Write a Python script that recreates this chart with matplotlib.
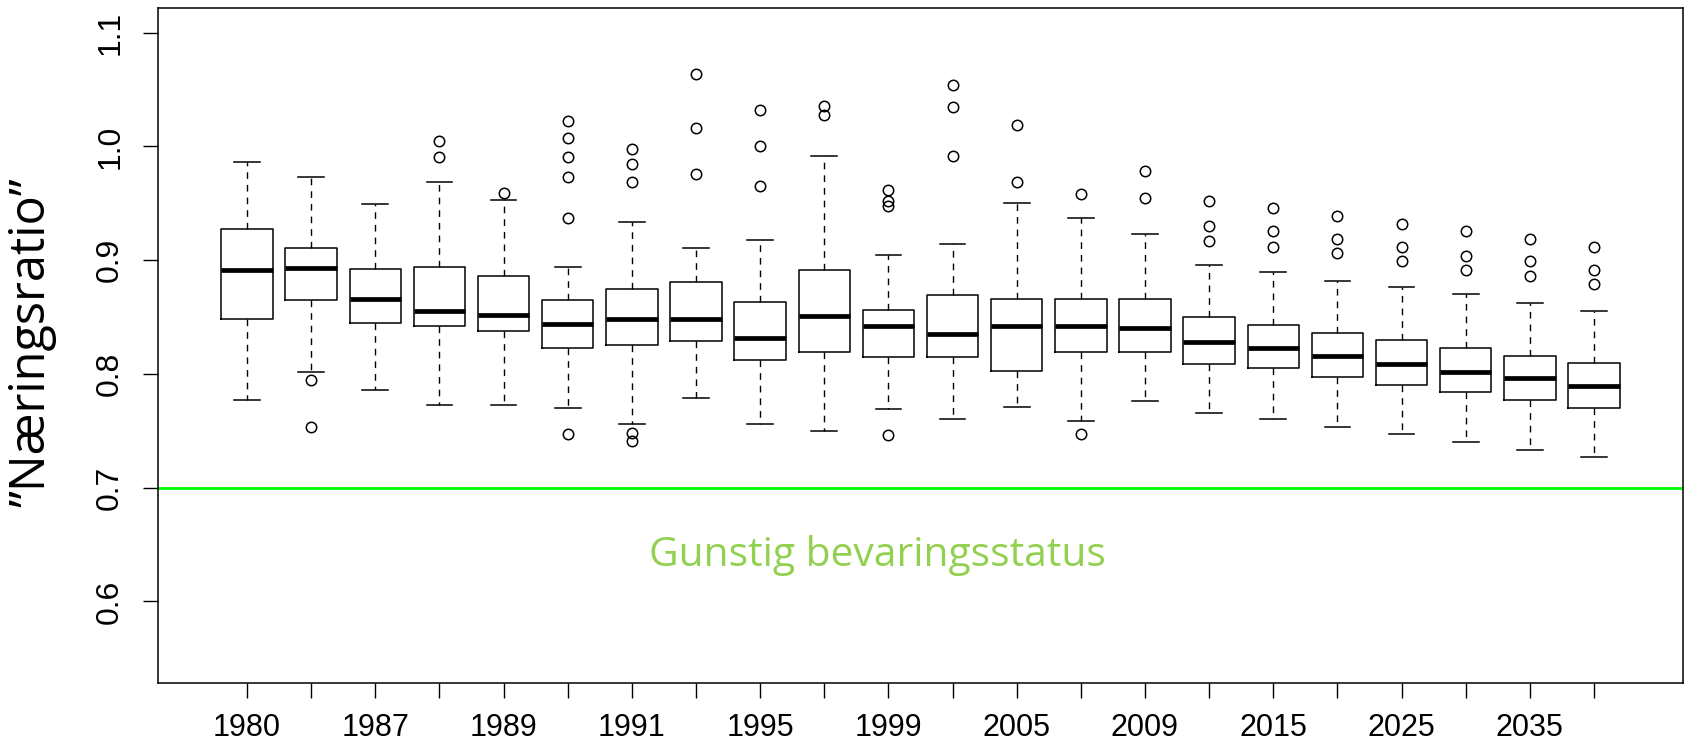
import numpy as np
import matplotlib
matplotlib.use('Agg')
import matplotlib.pyplot as plt

# box statistics (22 boxes)
q1 = [0.848, 0.865, 0.845, 0.842, 0.838, 0.823, 0.825, 0.829, 0.812, 0.819, 0.815,
      0.815, 0.803, 0.819, 0.819, 0.809, 0.805, 0.797, 0.790, 0.784, 0.777, 0.770]
med = [0.891, 0.893, 0.866, 0.855, 0.852, 0.844, 0.848, 0.848, 0.832, 0.851, 0.842,
       0.835, 0.842, 0.842, 0.840, 0.828, 0.823, 0.816, 0.809, 0.802, 0.796, 0.789]
q3 = [0.927, 0.911, 0.892, 0.894, 0.886, 0.865, 0.875, 0.881, 0.863, 0.891, 0.856,
      0.869, 0.866, 0.866, 0.866, 0.850, 0.843, 0.836, 0.830, 0.823, 0.816, 0.810]
whislo = [0.777, 0.802, 0.786, 0.773, 0.773, 0.770, 0.756, 0.779, 0.756, 0.750, 0.769,
          0.760, 0.771, 0.759, 0.776, 0.766, 0.760, 0.753, 0.747, 0.740, 0.733, 0.727]
whishi = [0.986, 0.973, 0.949, 0.969, 0.953, 0.894, 0.934, 0.911, 0.918, 0.992, 0.905,
          0.914, 0.950, 0.937, 0.923, 0.896, 0.890, 0.882, 0.876, 0.870, 0.862, 0.855]
fliers = [
    [],
    [0.795, 0.753],
    [],
    [1.005, 0.991],
    [0.959],
    [1.022, 1.007, 0.991, 0.973, 0.937, 0.747],
    [0.998, 0.985, 0.969, 0.748, 0.741],
    [1.064, 1.016, 0.976],
    [1.032, 1.000, 0.965],
    [1.036, 1.028],
    [0.962, 0.952, 0.948, 0.746],
    [1.054, 1.035, 0.992],
    [1.019, 0.969],
    [0.958, 0.747],
    [0.978, 0.955],
    [0.952, 0.930, 0.917],
    [0.946, 0.926, 0.912],
    [0.939, 0.919, 0.906],
    [0.932, 0.912, 0.899],
    [0.926, 0.904, 0.891],
    [0.919, 0.899, 0.886],
    [0.912, 0.891, 0.879],
]
# only every other label is printed on the axis
shown_years = ['1980', '1987', '1989', '1991', '1995', '1999',
               '2005', '2009', '2015', '2025', '2035']
threshold = 0.7
threshold_label = 'Gunstig bevaringsstatus'

n = len(med)
stats = []
for i in range(n):
    stats.append({'med': med[i], 'q1': q1[i], 'q3': q3[i],
                  'whislo': whislo[i], 'whishi': whishi[i], 'fliers': fliers[i]})

fig = plt.figure(figsize=(16.84, 7.47), dpi=100)
ax = fig.add_axes([158.3 / 1684, 63.7 / 747, 1524.4 / 1684, 675.6 / 747])

pos = np.arange(1, n + 1)
ax.bxp(stats, positions=pos, widths=0.8, showfliers=True,
       boxprops=dict(color='black', linewidth=1.1),
       medianprops=dict(color='black', linewidth=3.4, solid_capstyle='butt'),
       whiskerprops=dict(color='black', linewidth=1.0, linestyle=(0, (4.8, 4.3))),
       capprops=dict(color='black', linewidth=1.1),
       flierprops=dict(marker='o', markersize=7.5, markerfacecolor='none',
                       markeredgecolor='black', markeredgewidth=1.1))

ax.axhline(threshold, color='#00ff00', linewidth=2.0, zorder=1)
ax.text(10.83, 0.631, threshold_label, color='#92d050', fontsize=29.3,
        family='Open Sans', ha='center', va='baseline')

ax.set_xlim(-0.383, n + 1.383)
ax.set_ylim(0.528, 1.122)

labels = [''] * n
for k, y in enumerate(shown_years):
    labels[2 * k] = y
ax.set_xticks(pos)
ax.set_xticklabels(labels, family='Liberation Sans', fontsize=22)
ax.set_yticks([0.6, 0.7, 0.8, 0.9, 1.0, 1.1])
ax.set_yticklabels(['0.6', '0.7', '0.8', '0.9', '1.0', '1.1'],
                   family='Liberation Sans', fontsize=23, rotation=90, va='center')
ax.tick_params(axis='both', length=10.8, width=1.0, color='black')
ax.tick_params(axis='x', pad=10.5)
ax.tick_params(axis='y', pad=13)
for s in ax.spines.values():
    s.set_linewidth(1.1)

fig.text(32 / 1684, (747 - 342) / 747, '\u201dN\u00e6ringsratio\u201d', rotation=90,
         fontsize=35, family='Open Sans', ha='center', va='center')

fig.savefig('out.png', dpi=100)
